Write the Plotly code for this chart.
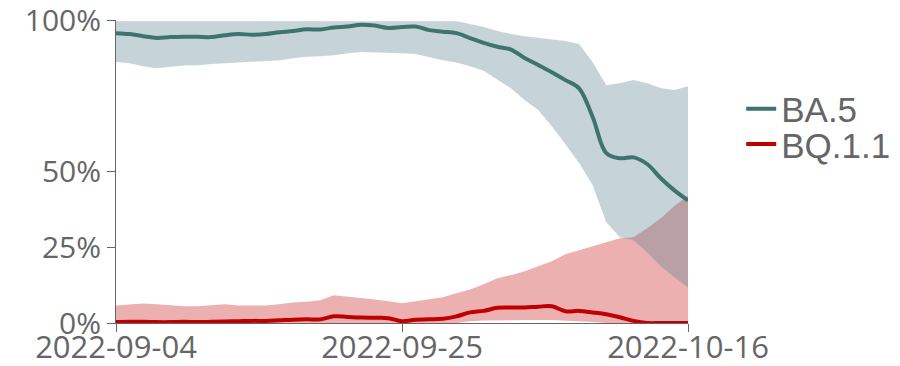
import pandas as pd
import plotly.graph_objects as go

dates = pd.date_range("2022-09-04", "2022-10-16", freq="D")

ba5_mid = [95.7, 95.4, 94.7, 94.1, 94.4, 94.5, 94.5, 94.4, 95.0, 95.4,
           95.2, 95.4, 96.0, 96.4, 97.0, 96.9, 97.6, 97.9, 98.5, 98.2,
           97.4, 97.7, 97.9, 96.7, 96.2, 95.7, 94.1, 92.5, 91.2, 90.3,
           87.5, 85.2, 82.8, 80.2, 77.5, 68.0, 56.1, 54.4, 54.7, 52.5,
           47.8, 43.8, 40.5]
ba5_hi = [99.6] * 26 + [98.7, 97.7, 96.4, 95.4, 94.7, 94.2, 93.7, 93.1, 92.1,
                        86.1, 78.5, 79.2, 80.2, 79.2, 77.6, 76.9, 78.2]
ba5_lo = [86.2, 85.8, 84.8, 84.1, 84.6, 85.0, 85.1, 85.5, 85.8, 86.1,
          86.3, 86.5, 86.8, 87.4, 87.9, 88.1, 88.4, 89.1, 89.5, 89.4,
          89.3, 89.1, 88.8, 87.8, 86.8, 86.0, 84.8, 83.3, 80.5, 77.5,
          73.6, 70.3, 65.0, 59.0, 52.8, 45.5, 33.3, 28.3, 27.3, 23.4,
          18.7, 15.1, 11.8]

bq_mid = [0.3, 0.4, 0.4, 0.3, 0.3, 0.4, 0.3, 0.4, 0.5, 0.6,
          0.7, 0.7, 0.9, 1.1, 1.2, 1.2, 2.2, 2.0, 1.8, 1.7,
          1.6, 0.6, 1.1, 1.2, 1.4, 2.2, 3.5, 4.0, 5.0, 5.1,
          5.1, 5.4, 5.5, 3.9, 4.0, 3.5, 2.9, 1.9, 0.7, 0.0,
          0.0, 0.0, 0.0]
bq_hi = [5.8, 6.2, 6.4, 6.2, 5.8, 5.5, 5.5, 5.8, 6.2, 5.8,
         5.7, 5.8, 6.2, 6.8, 7.0, 7.5, 9.2, 8.8, 8.3, 7.8,
         7.2, 6.5, 7.2, 7.8, 8.5, 9.8, 11.1, 12.8, 14.8, 15.8,
         17.1, 18.7, 20.4, 22.7, 24.0, 25.3, 26.7, 28.0, 28.3, 31.3,
         34.6, 38.6, 42.0]
bq_lo = [0.0] * 26 + [0.6, 0.8, 0.9, 1.0, 1.0, 1.0, 1.0, 0.8, 0.6, 0.3,
                      0.0, 0.0, 0.0, 0.0, 0.0, 0.0, 0.0]

y_ticks = [0, 0.25, 0.5, 1]

def frac(v):
    return [x / 100 for x in v]

x = list(dates)
xx = x + x[::-1]

fig = go.Figure()
fig.add_trace(go.Scatter(x=xx, y=frac(bq_hi) + frac(bq_lo)[::-1], fill="toself",
                         fillcolor="rgb(236,176,176)", line=dict(width=0),
                         hoverinfo="skip", showlegend=False, mode="lines"))
fig.add_trace(go.Scatter(x=xx, y=frac(ba5_hi) + frac(ba5_lo)[::-1], fill="toself",
                         fillcolor="rgba(92,132,146,0.35)", line=dict(width=0),
                         hoverinfo="skip", showlegend=False, mode="lines"))
fig.add_trace(go.Scatter(x=x, y=frac(ba5_mid), mode="lines", name="BA.5",
                         legend="legend",
                         line=dict(color="#3d7470", width=4, shape="spline")))
fig.add_trace(go.Scatter(x=x, y=frac(bq_mid), mode="lines", name="BQ.1.1",
                         legend="legend2",
                         line=dict(color="#c00000", width=4, shape="spline")))

leg_font = dict(family="Liberation Sans", size=35, color="#666666")
fig.update_layout(
    width=892, height=358,
    margin=dict(l=108, r=212, t=12, b=43, autoexpand=False),
    paper_bgcolor="white", plot_bgcolor="white",
    font=dict(family="Open Sans", size=30, color="#666666"),
    legend=dict(x=1.093, xanchor="left", y=0.706, yanchor="middle",
                font=leg_font, bgcolor="rgba(0,0,0,0)"),
    legend2=dict(x=1.093, xanchor="left", y=0.59, yanchor="middle",
                 font=leg_font, bgcolor="rgba(0,0,0,0)"),
)
fig.update_xaxes(range=[dates[0], dates[-1]], tick0="2022-09-04", dtick=21 * 86400000,
                 tickformat="%Y-%m-%d", showgrid=False, zeroline=False,
                 showline=True, linecolor="#666666", linewidth=1,
                 ticks="outside", ticklen=8, tickcolor="#666666",
                 tickfont=dict(size=31), automargin=False, ticklabeloverflow="allow",
                 ticklabelstandoff=-11)
fig.update_yaxes(range=[0, 1.0005], tickvals=y_ticks, tickformat=".0%",
                 showgrid=False, zeroline=False, showline=True, linecolor="#666666",
                 linewidth=1, ticks="outside", ticklen=8, tickcolor="#666666",
                 automargin=False, ticklabeloverflow="allow")

fig.write_html("out.html")
